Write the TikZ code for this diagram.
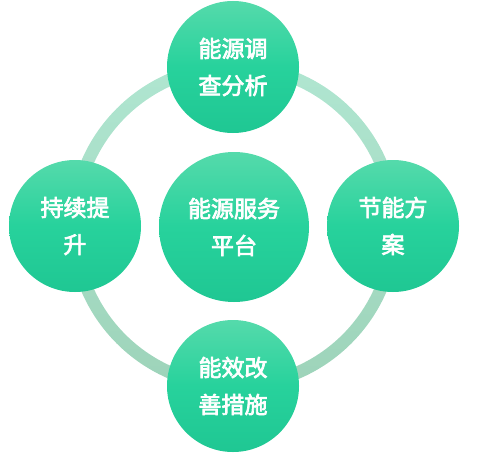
\documentclass[tikz,border=0pt]{standalone}
\usepackage{fontspec}
\newfontfamily\cjk[BoldFont={Noto Sans CJK SC}, BoldFeatures={FakeBold=3}]{Noto Sans CJK SC}
\definecolor{ringtop}{HTML}{B0E6D1}
\definecolor{ringbot}{HTML}{9DD3B9}
\definecolor{ctop}{HTML}{55DAAB}
\definecolor{cmid}{HTML}{27D29C}
\definecolor{cbot}{HTML}{1FC793}
\tikzset{
  bubble/.style={circle, inner sep=0pt, minimum size=#1, top color=ctop, bottom color=cbot, middle color=cmid,
    text=white, align=center, font=\cjk\bfseries\fontsize{23pt}{37pt}\selectfont},
}
\begin{document}
\begin{tikzpicture}[x=1pt,y=1pt]
\useasboundingbox (0,0) rectangle (478,456);
\coordinate (o) at (234,230);
\path[even odd rule, top color=ringtop, bottom color=ringbot] (o) circle (166) (o) circle (153.5);
\node[bubble=150pt] (center) at (234,229) {能源服务\\平台};
\node[bubble=132pt] (top) at (233,389) {能源调\\查分析};
\node[bubble=132pt] (left) at (75,230) {持续提\\升};
\node[bubble=132pt] (right) at (393,230) {节能方\\案};
\node[bubble=132pt] (bottom) at (233,70) {能效改\\善措施};
\end{tikzpicture}
\end{document}
